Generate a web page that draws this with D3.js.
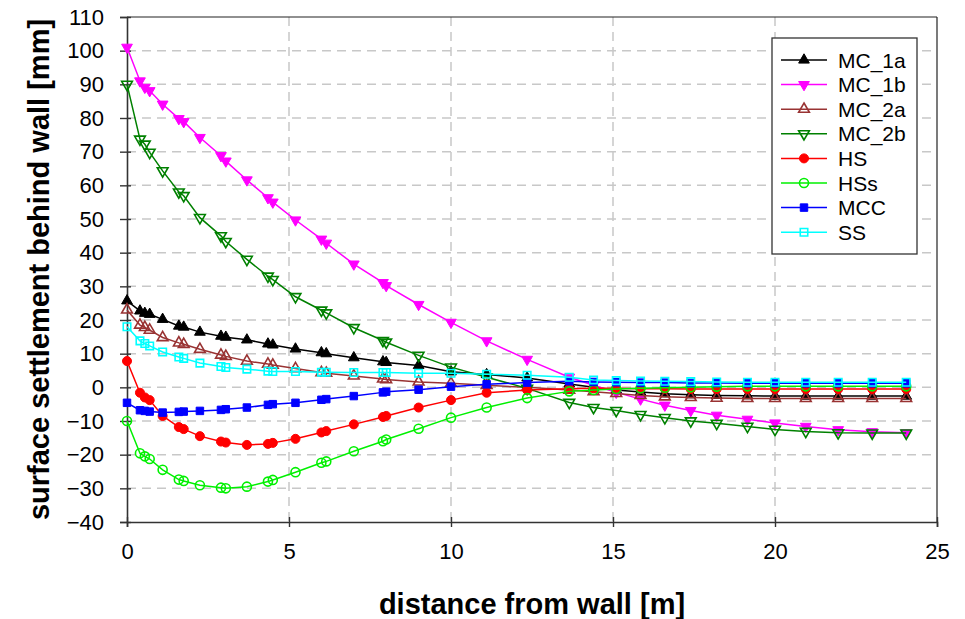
<!DOCTYPE html>
<html>
<head>
<meta charset="utf-8">
<script src="https://cdn.jsdelivr.net/npm/d3@7"></script>
<style>
  html, body { margin: 0; padding: 0; background: #fff; }
  svg { display: block; font-family: Arial, "Liberation Sans", sans-serif; }
</style>
</head>
<body>
<svg id="chart" width="965" height="619"></svg>
<script>
// ---------------- data ----------------
const distances = [0, 0.4, 0.55, 0.7, 1.1, 1.6, 1.75, 2.25, 2.9, 3.05, 3.7, 4.35, 4.5, 5.2, 6.0, 6.15, 7.0, 7.9, 8.0, 9.0, 10.0, 11.1, 12.35, 13.65, 14.4, 15.1, 15.85, 16.6, 17.4, 18.2, 19.15, 20.0, 20.95, 21.95, 23.0, 24.05];

const mc1a = [25.7, 22.7, 22.0, 21.7, 20.2, 18.2, 17.9, 16.4, 15.2, 14.9, 14.1, 12.9, 12.6, 11.4, 10.3, 10.0, 8.8, 7.6, 7.4, 6.5, 4.6, 3.8, 2.8, 1.0, 0.0, -0.8, -1.4, -1.9, -2.2, -2.4, -2.5, -2.6, -2.6, -2.6, -2.6, -2.6];
const mc1b = [101, 91, 89.1, 88.1, 84.1, 79.8, 78.9, 74.2, 68.8, 67.2, 61.6, 56.3, 55.0, 49.7, 44.0, 42.8, 36.6, 31.1, 30.2, 24.6, 19.3, 13.8, 8.3, 3.0, 0.6, -1.5, -3.5, -5.3, -6.9, -8.3, -9.5, -10.6, -11.6, -12.6, -13.2, -13.5];
const mc2a = [23, 18.5, 17.8, 17.0, 14.8, 13.2, 12.8, 11.3, 9.6, 9.2, 7.8, 6.9, 6.6, 5.6, 4.4, 4.2, 3.4, 2.5, 2.3, 1.6, 1.2, 0.6, 0.0, -0.8, -1.3, -1.8, -2.4, -2.8, -3.0, -3.2, -3.3, -3.3, -3.3, -3.3, -3.3, -3.3];
const mc2b = [90, 73.7, 72.2, 69.8, 64.3, 58.0, 56.9, 50.4, 45.0, 43.3, 38.0, 33.0, 32.0, 26.9, 22.9, 22.1, 17.7, 13.9, 13.4, 9.5, 6.0, 3.0, -0.3, -4.5, -6.0, -6.9, -8.1, -9.0, -10.0, -10.7, -11.6, -12.5, -13.1, -13.5, -13.6, -13.6];
const hs   = [7.8, -1.6, -3.0, -3.8, -8.5, -11.8, -12.4, -14.5, -16.1, -16.4, -17.1, -16.8, -16.5, -15.3, -13.4, -13.0, -11.0, -8.8, -8.5, -6.0, -3.8, -1.6, -0.8, -0.4, -0.3, -0.3, -0.4, -0.4, -0.5, -0.5, -0.5, -0.5, -0.5, -0.5, -0.5, -0.5];
const hss  = [-10, -19.6, -20.5, -21.3, -24.5, -27.4, -27.8, -29.1, -29.8, -30.0, -29.5, -28.0, -27.5, -25.2, -22.4, -22.0, -19.0, -16.0, -15.5, -12.3, -9.0, -6.0, -3.2, -1.2, -0.8, -0.5, -0.3, -0.1, 0.0, 0.2, 0.3, 0.3, 0.3, 0.3, 0.3, 0.3];
const mcc  = [-4.6, -6.8, -7.0, -7.2, -7.5, -7.3, -7.2, -7.0, -6.7, -6.5, -6.0, -5.2, -5.0, -4.6, -3.7, -3.5, -2.6, -1.5, -1.3, -0.7, 0.2, 0.9, 1.4, 1.8, 1.6, 1.5, 1.4, 1.4, 1.3, 1.3, 1.2, 1.2, 1.2, 1.2, 1.2, 1.2];
const ss   = [18, 13.8, 13.0, 12.3, 10.5, 9.0, 8.6, 7.2, 6.2, 5.9, 5.4, 4.8, 4.7, 4.7, 4.5, 4.5, 4.4, 4.4, 4.4, 4.2, 4.2, 3.9, 3.6, 3.0, 2.2, 2.0, 1.9, 1.8, 1.7, 1.6, 1.5, 1.5, 1.5, 1.5, 1.5, 1.5];

const seriesNames = ["MC_1a", "MC_1b", "MC_2a", "MC_2b", "HS", "HSs", "MCC", "SS"];
const seriesValues = [mc1a, mc1b, mc2a, mc2b, hs, hss, mcc, ss];
const xTicks = [0, 5, 10, 15, 20, 25];
const yTicks = [-40, -30, -20, -10, 0, 10, 20, 30, 40, 50, 60, 70, 80, 90, 100, 110];
const xTitle = "distance from wall [m]";
const yTitle = "surface settlement behind wall [mm]";

// ---------------- styles ----------------
const styles = {
  "MC_1a": { color: "#000000", shape: "triUp",   filled: true },
  "MC_1b": { color: "#FF00FF", shape: "triDown", filled: true },
  "MC_2a": { color: "#993333", shape: "triUp",   filled: false },
  "MC_2b": { color: "#008000", shape: "triDown", filled: false },
  "HS":    { color: "#FF0000", shape: "circle",  filled: true },
  "HSs":   { color: "#00F000", shape: "circle",  filled: false },
  "MCC":   { color: "#0000FF", shape: "square",  filled: true },
  "SS":    { color: "#00FFFF", shape: "square",  filled: false }
};

// ---------------- layout ----------------
const svg = d3.select("#chart");
const M = { left: 127, right: 937, top: 17, bottom: 522 };

const x = d3.scaleLinear().domain([0, 25]).range([M.left, M.right]);
const y = d3.scaleLinear().domain([-40, 110]).range([M.bottom, M.top]);

svg.append("rect").attr("x", M.left).attr("y", M.top)
  .attr("width", M.right - M.left).attr("height", M.bottom - M.top)
  .attr("fill", "#fff");

// grid
const grid = svg.append("g");
grid.selectAll("line.gy").data(yTicks.filter(t => t > -40 && t < 110)).enter()
  .append("line")
  .attr("x1", M.left).attr("x2", M.right)
  .attr("y1", d => y(d)).attr("y2", d => y(d))
  .attr("stroke", "#c8c8c8").attr("stroke-width", 1.5)
  .attr("stroke-dasharray", "9,6");
grid.selectAll("line.gx").data(xTicks.filter(t => t > 0 && t < 25)).enter()
  .append("line")
  .attr("y1", M.top).attr("y2", M.bottom)
  .attr("x1", d => x(d)).attr("x2", d => x(d))
  .attr("stroke", "#c8c8c8").attr("stroke-width", 1.5)
  .attr("stroke-dasharray", "9,6");

// frame (top/right)
svg.append("line").attr("x1", M.left).attr("x2", M.right).attr("y1", M.top).attr("y2", M.top)
  .attr("stroke", "#222").attr("stroke-width", 1.2);
svg.append("line").attr("x1", M.right).attr("x2", M.right).attr("y1", M.top).attr("y2", M.bottom)
  .attr("stroke", "#222").attr("stroke-width", 1.2);

// axes
const xAxis = d3.axisBottom(x).tickValues(xTicks).tickSize(5).tickPadding(16).tickFormat(d3.format("d"));
const gx = svg.append("g").attr("transform", `translate(0,${M.bottom})`).call(xAxis);
gx.select(".domain").attr("stroke", "#333").attr("stroke-width", 1.6);
gx.selectAll(".tick line").attr("stroke", "#333").attr("stroke-width", 1.4).attr("y1", -5);
gx.selectAll(".tick text").attr("font-size", 22).attr("fill", "#000")
  .attr("font-family", "Arial, 'Liberation Sans', sans-serif");

const yAxis = d3.axisLeft(y).tickValues(yTicks).tickSize(7).tickPadding(16).tickFormat(d3.format("d"));
const gy = svg.append("g").attr("transform", `translate(${M.left},0)`).call(yAxis);
gy.select(".domain").attr("stroke", "#333").attr("stroke-width", 1.6);
gy.selectAll(".tick line").attr("stroke", "#333").attr("stroke-width", 1.4).attr("x1", 4);
gy.selectAll(".tick text").attr("font-size", 22).attr("fill", "#000")
  .attr("font-family", "Arial, 'Liberation Sans', sans-serif");

// axis titles
svg.append("text").attr("x", (M.left + M.right) / 2).attr("y", 614)
  .attr("text-anchor", "middle").attr("font-size", 29).attr("font-weight", "bold")
  .text(xTitle);
svg.append("text")
  .attr("transform", `translate(49,${(M.top + M.bottom) / 2}) rotate(-90)`)
  .attr("text-anchor", "middle").attr("font-size", 29).attr("font-weight", "bold")
  .text(yTitle);

// symbols
function symbolPath(shape) {
  if (shape === "triUp" || shape === "triDown") return d3.symbol(d3.symbolTriangle).size(50)();
  if (shape === "circle") return d3.symbol(d3.symbolCircle).size(64)();
  return d3.symbol(d3.symbolSquare).size(56)();
}
function drawMarker(g, name, px, py) {
  const st = styles[name];
  g.append("path")
    .attr("d", symbolPath(st.shape))
    .attr("transform", `translate(${px},${py})` + (st.shape === "triDown" ? " rotate(180)" : ""))
    .attr("fill", st.filled ? st.color : "none")
    .attr("stroke", st.color)
    .attr("stroke-width", st.filled ? 1 : 1.6);
}

const line = d3.line().x(d => x(d[0])).y(d => y(d[1]));
const plot = svg.append("g");

seriesNames.forEach((name, i) => {
  const pts = distances.map((dv, k) => [dv, seriesValues[i][k]]);
  const g = plot.append("g");
  g.append("path").datum(pts).attr("d", line)
    .attr("fill", "none").attr("stroke", styles[name].color).attr("stroke-width", 1.5);
  pts.forEach(p => drawMarker(g, name, x(p[0]), y(p[1])));
});

// legend
const lg = svg.append("g");
lg.append("rect").attr("x", 772).attr("y", 38).attr("width", 145).attr("height", 216)
  .attr("fill", "#fff").attr("stroke", "#333").attr("stroke-width", 1.3);
seriesNames.forEach((name, i) => {
  const cy = 60 + i * 24.6;
  lg.append("line").attr("x1", 781).attr("x2", 827).attr("y1", cy).attr("y2", cy)
    .attr("stroke", styles[name].color).attr("stroke-width", 1.5);
  drawMarker(lg, name, 804, cy);
  lg.append("text").attr("x", 838).attr("y", cy + 7.5).attr("font-size", 21)
    .attr("fill", "#000").text(name);
});
</script>
</body>
</html>
